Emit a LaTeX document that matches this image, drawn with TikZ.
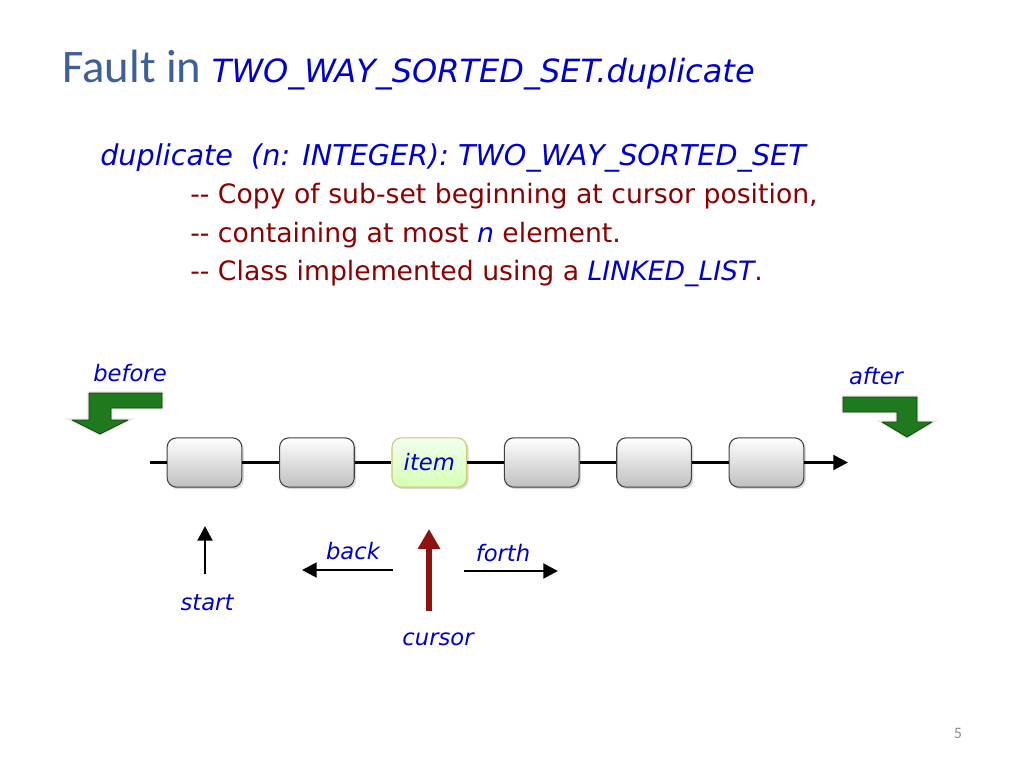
\documentclass[tikz,border=0pt]{standalone}
\usepackage{fontspec}
\setmainfont{Carlito}
\newfontfamily\comicfont{DejaVu Sans}
\usetikzlibrary{positioning,arrows.meta,shadows}

\definecolor{titleblue}{HTML}{3F5F9A}
\definecolor{codeblue}{HTML}{0000CC}
\definecolor{commentred}{HTML}{8B0000}
\definecolor{arrowgreen}{HTML}{1F7A1F}
\definecolor{cursorred}{HTML}{8E1212}

\tikzset{
  cell/.style={draw=black!75, line width=0.8pt, rounded corners=7pt,
    minimum width=56pt, minimum height=37pt, inner sep=0pt,
    top color=white, bottom color=black!25,
    drop shadow={shadow xshift=1.5pt, shadow yshift=-1.5pt, opacity=0.3}},
  itemcell/.style={cell, draw=olive!45, top color=yellow!10!green!6, bottom color=yellow!45!green!30},
  lbl/.style={font=\comicfont\itshape\fontsize{17}{20}\selectfont, text=codeblue, inner sep=0pt},
  code/.style={anchor=base west, inner sep=0pt, font=\comicfont\itshape\fontsize{21.5}{26}\selectfont, text=codeblue},
  comment/.style={anchor=base west, inner sep=0pt, font=\comicfont\fontsize{20}{24}\selectfont, text=commentred},
  bent/.style={fill=arrowgreen, draw=arrowgreen!55!black, line width=0.6pt, line join=round,
    preaction={draw=olive!40!black!25, line width=2.5pt, opacity=0.5}},
  move/.style={line width=2.2pt, -{Triangle[length=11pt, width=11pt]}},
  link/.style={line width=2.2pt},
}

\begin{document}
\begin{tikzpicture}[x=0.75pt, y=-0.75pt, node distance=27.5pt]
    \useasboundingbox (0,0) rectangle (1024,768);

    % title and feature text
    \node[anchor=base west, inner sep=0pt] (title) at (62,82)
        {\fontsize{35}{40}\selectfont\color{titleblue}Fault in
         {\comicfont\itshape\fontsize{24}{28}\selectfont\color{codeblue}TWO\_WAY\_SORTED\_SET.duplicate}};
    \node[code] (signature) at (100,165) {duplicate~~(n: INTEGER): TWO\_WAY\_SORTED\_SET};
    \node[comment] (commentA) at (190,203) {-- Copy of sub-set beginning at cursor position,};
    \node[comment] (commentB) at (190,242) {-- containing at most {\itshape\color{codeblue}n} element.};
    \node[comment] (commentC) at (190,280) {-- Class implemented using a {\itshape\color{codeblue}LINKED\_LIST}.};

    % list cells
    \node[cell] (cellA) at (204.5,462.5) {};
    \node[cell, right = of cellA] (cellB) {};
    \node[itemcell, right = of cellB] (item) {\comicfont\itshape\fontsize{17}{20}\selectfont\color{codeblue}item};
    \node[cell, right = of item] (cellD) {};
    \node[cell, right = of cellD] (cellE) {};
    \node[cell, right = of cellE] (cellF) {};

    \coordinate (listStart) at (150,462.5);
    \coordinate (listEnd) at (848,462.5);
    \draw[link] (listStart) -- (cellA);
    \draw[link] (cellA) -- (cellB);
    \draw[link] (cellB) -- (item);
    \draw[link] (item) -- (cellD);
    \draw[link] (cellD) -- (cellE);
    \draw[link] (cellE) -- (cellF);
    \draw[move] (cellF) -- (listEnd);

    % before / after markers
    \node[lbl] (before) at (130,373) {before};
    \node[lbl] (after) at (876,376) {after};
    \path[bent] (162,393) -- (89,393) -- (89,420) -- (72,420) -- (100,434) -- (128,420)
        -- (111,420) -- (111,408) -- (162,408) -- cycle;
    \path[bent] (843,397) -- (917,397) -- (917,422) -- (932,422) -- (907,437) -- (882,422)
        -- (897,422) -- (897,412) -- (843,412) -- cycle;

    % cursor operations
    \coordinate (startTail) at (205,574);
    \coordinate (startHead) at (205,526);
    \coordinate (backTail) at (393,570);
    \coordinate (backHead) at (302,570);
    \coordinate (forthTail) at (464,571);
    \coordinate (forthHead) at (558,571);
    \coordinate (cursorTail) at (429,611);
    \coordinate (cursorHead) at (429,529);
    \draw[move] (startTail) -- (startHead);
    \draw[move] (backTail) -- (backHead);
    \draw[move] (forthTail) -- (forthHead);
    \draw[cursorred, line width=3.8pt, -{Triangle[length=15pt, width=16pt]}] (cursorTail) -- (cursorHead);

    \node[lbl] (start) at (207,603) {start};
    \node[lbl] (back) at (353,551) {back};
    \node[lbl] (forth) at (503,553) {forth};
    \node[lbl] (cursor) at (438,639) {cursor};

    \node[text=black!45, font=\fontsize{12}{14}\selectfont] (page) at (958,733) {5};
\end{tikzpicture}
\end{document}
